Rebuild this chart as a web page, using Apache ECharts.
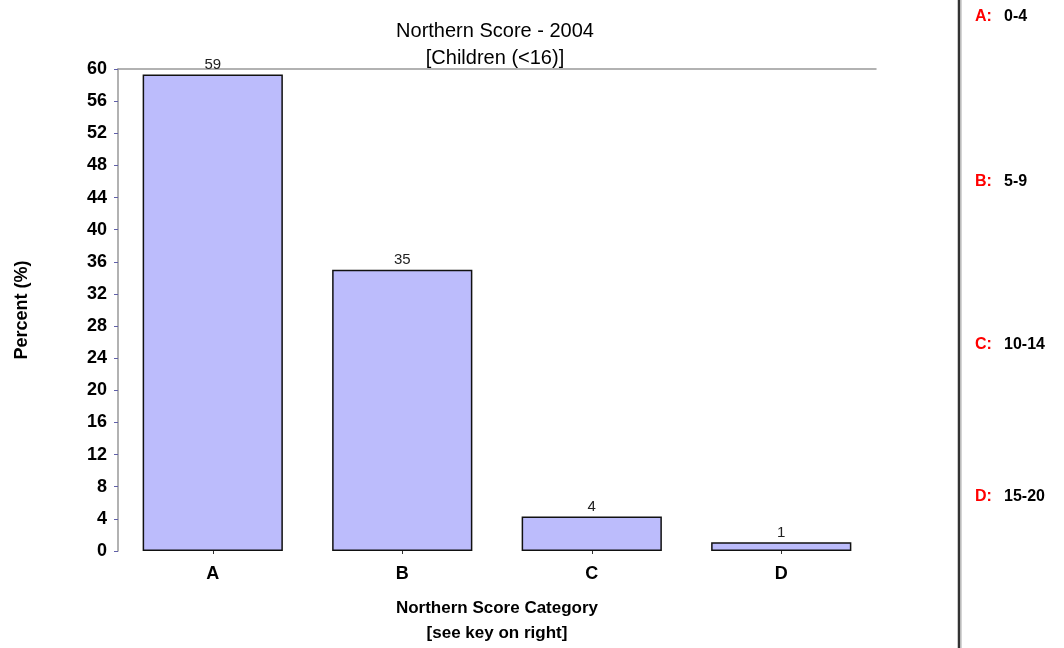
<!DOCTYPE html>
<html>
<head>
<meta charset="utf-8">
<script src="https://cdn.jsdelivr.net/npm/echarts@6/dist/echarts.min.js"></script>
<style>
  html, body { margin: 0; padding: 0; background: #ffffff; }
  #chart { width: 1064px; height: 648px; }
</style>
</head>
<body>
<div id="chart"></div>
<script>
// data
const categories = ['A', 'B', 'C', 'D'];
const percentValues = [59.3, 35.0, 4.3, 1.1];
const yTickLabels = [0, 4, 8, 12, 16, 20, 24, 28, 32, 36, 40, 44, 48, 52, 56, 60];
const keyLetters = ['A:', 'B:', 'C:', 'D:'];
const keyRanges = ['0-4', '5-9', '10-14', '15-20'];
const keyRows = [17, 182, 345, 497];

const boldFont = '"Liberation Sans", Arial, sans-serif';

const chart = echarts.init(document.getElementById('chart'));

// key on the right side
const keyGraphics = [];
keyLetters.forEach((letter, i) => {
  keyGraphics.push({
    type: 'text', x: 975, y: keyRows[i],
    style: { text: letter, fill: '#ff0000', font: 'bold 16px ' + boldFont, verticalAlign: 'middle' }
  });
  keyGraphics.push({
    type: 'text', x: 1004, y: keyRows[i],
    style: { text: keyRanges[i], fill: '#000000', font: 'bold 16px ' + boldFont, verticalAlign: 'middle' }
  });
});

const option = {
  backgroundColor: '#ffffff',
  animation: false,
  title: {
    text: 'Northern Score - 2004\n[Children (<16)]',
    left: 490,
    textAlign: 'center',
    top: 13,
    textStyle: {
      fontFamily: boldFont,
      fontSize: 20,
      fontWeight: 'normal',
      color: '#000000',
      lineHeight: 27
    }
  },
  grid: { left: 118, right: 188, top: 69, bottom: 97, containLabel: false, outerBoundsMode: 'none' },
  xAxis: [
    {
      type: 'category',
      data: categories,
      name: 'Northern Score Category\n[see key on right]',
      nameLocation: 'middle',
      nameGap: 45,
      nameTextStyle: {
        fontFamily: boldFont, fontSize: 17, fontWeight: 'bold', color: '#000', lineHeight: 25
      },
      axisLine: { show: false },
      axisTick: { show: true, alignWithLabel: true, length: 3, lineStyle: { color: '#333' } },
      axisLabel: { fontFamily: boldFont, fontSize: 18, fontWeight: 'bold', color: '#000', margin: 14 }
    },
    {
      type: 'category',
      position: 'top',
      data: categories,
      axisLine: { show: true, lineStyle: { color: '#999999', width: 1.5 } },
      axisTick: { show: false },
      axisLabel: { show: false }
    }
  ],
  yAxis: {
    type: 'value',
    min: 0,
    max: 60,
    interval: 4,
    name: 'Percent (%)',
    nameLocation: 'middle',
    nameGap: 87,
    nameTextStyle: { fontFamily: boldFont, fontSize: 18, fontWeight: 'bold', color: '#000' },
    axisLine: { show: true, lineStyle: { color: '#999999', width: 1.5 } },
    axisTick: { show: true, length: 4, lineStyle: { color: '#6060a8' } },
    splitLine: { show: false },
    axisLabel: {
      fontFamily: boldFont, fontSize: 18, fontWeight: 'bold', color: '#000', margin: 11,
      formatter: (v) => (yTickLabels.includes(v) ? String(v) : '')
    }
  },
  series: [
    {
      type: 'bar',
      data: percentValues,
      barWidth: '74%',
      itemStyle: { color: '#bcbcfc', borderColor: '#111111', borderWidth: 1.5 },
      label: {
        show: true,
        position: 'top',
        distance: 2,
        fontFamily: boldFont,
        fontSize: 15,
        color: '#222',
        formatter: (p) => String(Math.round(p.value))
      }
    }
  ],
  graphic: [
    {
      type: 'line',
      shape: { x1: 959, y1: 0, x2: 959, y2: 648 },
      style: { stroke: '#333333', lineWidth: 2.5 }
    },
    {
      type: 'line',
      shape: { x1: 961, y1: 0, x2: 961, y2: 648 },
      style: { stroke: '#aaaaaa', lineWidth: 1 }
    }
  ].concat(keyGraphics)
};

chart.setOption(option);
</script>
</body>
</html>
